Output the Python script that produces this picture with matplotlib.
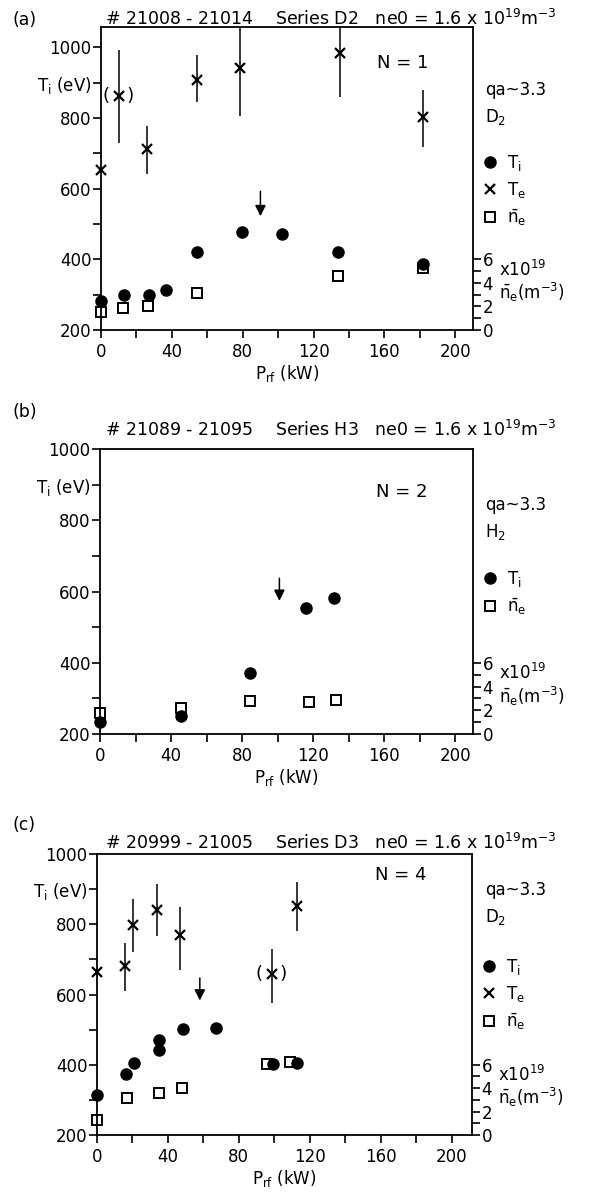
import numpy as np
import matplotlib
matplotlib.use("Agg")
import matplotlib.pyplot as plt
from matplotlib.ticker import MultipleLocator

plt.rcParams['font.family'] = ['DejaVu Sans']
plt.rcParams['mathtext.default'] = 'regular'
plt.rcParams['font.size'] = 12

# ---- panel (a), series D2, N = 1
a_ti_x = [0, 13, 27, 36.5, 54, 79.5, 102, 134, 182]
a_ti_y = [281, 298, 298, 313, 422, 477, 472, 422, 386]
a_te_x = [0, 10, 26, 54, 78.5, 135, 182]
a_te_y = [652, 862, 713, 908, 940, 983, 802]
a_te_lo = [652, 730, 642, 845, 806, 859, 719]
a_te_hi = [652, 992, 778, 978, 1060, 1060, 878]
a_te_paren = [1]          # index of the bracketed Te point
a_ne_x = [0, 12.5, 26.7, 54, 134, 182]
a_ne_y = [1.5, 1.9, 2.0, 3.1, 4.6, 5.3]
a_arrow = (90, 600, 514)

# ---- panel (b), series H3, N = 2
b_ti_x = [0, 45.5, 84.4, 116, 131.5]
b_ti_y = [233, 251, 371, 554, 581]
b_ne_x = [0, 45.5, 84.5, 117.5, 133]
b_ne_y = [1.8, 2.2, 2.8, 2.7, 2.85]
b_arrow = (101, 645, 566)

# ---- panel (c), series D3, N = 4
c_ti_x = [0, 16.5, 21, 35, 35, 48.5, 67, 99.5, 112.6]
c_ti_y = [315, 374, 405, 471, 443, 502, 504, 402, 406]
c_te_x = [0, 16, 20.5, 33.6, 47, 98.6, 112.6]
c_te_y = [665, 682, 798, 841, 768, 659, 853]
c_te_lo = [665, 611, 722, 766, 670, 577, 782]
c_te_hi = [665, 746, 871, 916, 850, 729, 921]
c_te_paren = [5]
c_ne_x = [0, 17, 35, 48, 96, 109]
c_ne_y = [1.3, 3.2, 3.6, 4.0, 6.1, 6.2]
c_arrow = (58, 655, 575)

# box = (left, right, top, bottom) in pixels; offsets in pixels from frame top
panels = [
    dict(tag='(a)', shots='# 21008 - 21014', series='Series D2', N='N = 1', gas='D$_2$',
         ti=(a_ti_x, a_ti_y), te=(a_te_x, a_te_y, a_te_lo, a_te_hi, a_te_paren),
         ne=(a_ne_x, a_ne_y), arrow=a_arrow,
         box=(101, 473, 27, 330), ytop=1057, xmax=210,
         head=-8, tagy=-7, qa=63, Ny=36, leg=129),
    dict(tag='(b)', shots='# 21089 - 21095', series='Series H3', N='N = 2', gas='H$_2$',
         ti=(b_ti_x, b_ti_y), te=None,
         ne=(b_ne_x, b_ne_y), arrow=b_arrow,
         box=(100, 473, 449, 734), ytop=1000, xmax=210,
         head=-19, tagy=-37, qa=56, Ny=43, leg=123),
    dict(tag='(c)', shots='# 20999 - 21005', series='Series D3', N='N = 4', gas='D$_2$',
         ti=(c_ti_x, c_ti_y), te=(c_te_x, c_te_y, c_te_lo, c_te_hi, c_te_paren),
         ne=(c_ne_x, c_ne_y), arrow=c_arrow,
         box=(97, 472, 854, 1135), ytop=1000, xmax=211.5,
         head=-11, tagy=-29, qa=36, Ny=21, leg=106),
]

W, H = 599, 1198
fig = plt.figure(figsize=(W / 100, H / 100), dpi=100)

for p in panels:
    l, r, t, b = p['box']
    ax = fig.add_axes([l / W, 1 - b / H, (r - l) / W, (b - t) / H])
    ax.set_xlim(0, p['xmax'])
    ax.set_ylim(200, p['ytop'])
    for s in ax.spines.values():
        s.set_linewidth(1.3)

    ax.xaxis.set_major_locator(MultipleLocator(40))
    ax.xaxis.set_minor_locator(MultipleLocator(20))
    ax.set_yticks([200, 400, 600, 800, 900, 1000])
    ax.set_yticklabels(['200', '400', '600', '800', 'T$_i$ (eV)', '1000'])
    ax.yaxis.set_minor_locator(MultipleLocator(100))
    ax.tick_params(which='both', direction='out', width=1.2, length=6, labelsize=12)
    ax.tick_params(axis='y', pad=1)
    ax.set_xlabel('P$_{rf}$ (kW)', fontsize=12, labelpad=1)

    # right axis for line-averaged density
    ax2 = ax.twinx()
    ax2.set_ylim(0, (p['ytop'] - 200) * 6 / 200)
    ax2.set_yticks([0, 2, 4, 6])
    ax2.set_yticks([1, 3, 5], minor=True)
    ax2.tick_params(which='both', direction='out', width=1.2, length=6, labelsize=12, pad=1)
    for s in ax2.spines.values():
        s.set_visible(False)
    ax2.text(1.07, 5.1, r'x10$^{19}$', transform=ax2.get_yaxis_transform(),
             fontsize=12, va='center')
    ax2.text(1.07, 3.2, r'$\bar{n}_e$(m$^{-3}$)', transform=ax2.get_yaxis_transform(),
             fontsize=12, va='center')
    ax.set_zorder(ax2.get_zorder() + 1)
    ax.patch.set_visible(False)

    handles = []
    hti, = ax.plot(*p['ti'], 'o', color='k', ms=8, label='T$_i$', clip_on=False, zorder=5)
    handles.append(hti)
    if p['te'] is not None:
        tx, ty, tlo, thi, paren = p['te']
        ax.vlines(tx, tlo, thi, color='k', lw=1.1)
        hte, = ax.plot(tx, ty, 'x', color='k', ms=7, mew=1.6, label='T$_e$', clip_on=False)
        handles.append(hte)
        for i in paren:
            ax.text(tx[i], ty[i], '(   )', ha='center', va='center', fontsize=13)
    hne, = ax2.plot(*p['ne'], 's', mfc='white', mec='k', mew=1.4, ms=7,
                    label=r'$\bar{n}_e$', clip_on=False)
    handles.append(hne)

    ax.text(0.81, 1 - p['Ny'] / (b - t), p['N'], transform=ax.transAxes,
            fontsize=13, ha='center', va='center')

    x0, y0, y1 = p['arrow']
    ax.annotate('', xy=(x0, y1), xytext=(x0, y0),
                arrowprops=dict(arrowstyle='-|>', color='k', lw=1.1, mutation_scale=16))

    # header, panel tag, side notes
    fig.text(105 / W, 1 - (t + p['head']) / H,
             p['shots'] + '    ' + p['series'] + '   ne0 = 1.6 x 10$^{19}$m$^{-3}$',
             fontsize=12.5, va='center', ha='left')
    fig.text(12 / W, 1 - (t + p['tagy']) / H, p['tag'], fontsize=12.5, va='center')
    fig.text(485 / W, 1 - (t + p['qa']) / H, 'qa~3.3', fontsize=12, va='center')
    fig.text(485 / W, 1 - (t + p['qa'] + 27) / H, p['gas'], fontsize=12, va='center')

    ax.legend(handles=handles, loc='upper left', frameon=False,
              bbox_to_anchor=(1.005, 1 - (p['leg'] - 10) / (b - t)),
              fontsize=12, handlelength=1.0, handletextpad=0.5,
              labelspacing=0.45, borderaxespad=0)

fig.savefig('out.png', dpi=100)
